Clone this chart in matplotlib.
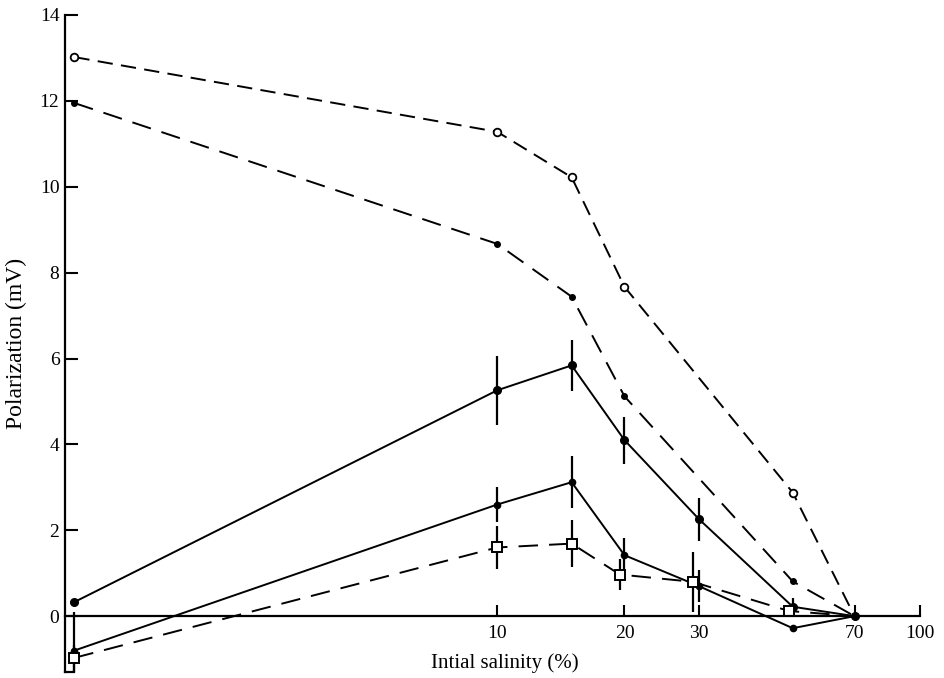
import matplotlib
matplotlib.use("Agg")
import matplotlib.pyplot as plt
from matplotlib.ticker import FixedLocator, NullLocator, FixedFormatter

plt.rcParams['font.family'] = ['Liberation Serif', 'DejaVu Serif']
plt.rcParams['lines.scale_dashes'] = False

# Data (salinity %, polarization mV)
x_open = [1, 10, 15, 20, 50, 70]
y_open = [13.02, 11.28, 10.22, 7.67, 2.88, 0.0]

x_small = [1, 10, 15, 20, 50, 70]
y_small = [11.95, 8.67, 7.44, 5.12, 0.81, 0.0]

x_up = [1, 10, 15, 20, 30, 50, 70]
y_up = [0.33, 5.26, 5.84, 4.10, 2.26, 0.22, 0.0]
e_up = [0.0, 0.8, 0.6, 0.55, 0.5, 0.2, 0.0]

x_low = [1, 10, 15, 20, 30, 50, 70]
y_low = [-0.80, 2.60, 3.12, 1.42, 0.70, -0.28, 0.0]
e_low = [0.9, 0.4, 0.6, 0.4, 0.38, 0.0, 0.0]

x_sq = [1, 10, 15, 19.5, 29, 49, 70]
y_sq = [-0.97, 1.60, 1.69, 0.97, 0.80, 0.12, 0.0]
e_sq = [0.3, 0.5, 0.55, 0.35, 0.7, 0.0, 0.0]

xticks = [10, 20, 30, 70, 100]
xticklabels = ['10', '20', '30', '70', '100']
yticks = [0, 2, 4, 6, 8, 10, 12, 14]

fig = plt.figure(figsize=(9.45, 6.78), dpi=100)
ax = fig.add_axes([65/945, 1-672/678, (920-65)/945, (672-15)/678])

k = 'black'
lw = 1.4

ax.plot(x_open, y_open, color=k, lw=lw, dashes=(11, 6), marker='o', ms=5.5,
        mfc='white', mec=k, mew=1.3, markevery=list(range(len(x_open) - 1)))
ax.plot(x_small, y_small, color=k, lw=lw, dashes=(14, 8), marker='o', ms=4,
        mfc=k, mec=k)
ax.errorbar(x_up, y_up, yerr=e_up, color=k, lw=lw, elinewidth=1.6, capsize=0,
            marker='o', ms=5.5, mfc=k, mec=k)
ax.errorbar(x_low, y_low, yerr=e_low, color=k, lw=lw, elinewidth=1.6, capsize=0,
            marker='o', ms=4.5, mfc=k, mec=k)
eb = ax.errorbar(x_sq, y_sq, yerr=e_sq, color=k, lw=lw, elinewidth=1.6, capsize=0,
                 marker='s', ms=7, mfc='white', mec=k, mew=1.4, ls=(0, (14, 8)))
eb[0].set_markevery(list(range(len(x_sq) - 1)))

ax.set_xscale('log')
ax.set_xlim(0.95, 100)
ax.set_ylim(-1.3, 14)

ax.spines['top'].set_visible(False)
ax.spines['right'].set_visible(False)
ax.spines['bottom'].set_position(('data', 0))
ax.spines['bottom'].set_linewidth(1.6)
ax.spines['left'].set_linewidth(1.6)

ax.xaxis.set_major_locator(FixedLocator(xticks))
ax.xaxis.set_major_formatter(FixedFormatter(xticklabels))
ax.xaxis.set_minor_locator(NullLocator())
ax.set_yticks(yticks)
ax.set_yticklabels([str(v) for v in yticks])
ax.tick_params(axis='x', direction='in', length=8, width=1.5, labelsize=14, pad=6)
ax.tick_params(axis='y', direction='in', length=9, width=1.5, labelsize=14, pad=4)

# small foot at the bottom of the left spine
ax.plot([0.95, 1.0], [-1.3, -1.3], color=k, lw=1.6, clip_on=False)

ax.set_xlabel('Intial salinity (%)', fontsize=15)
ax.xaxis.set_label_coords((505-65)/855, 0.028)
ax.set_ylabel('Polarization (mV)', fontsize=17)
ax.yaxis.set_label_coords(-0.044, 0.5)

fig.savefig('out.png', dpi=100)
